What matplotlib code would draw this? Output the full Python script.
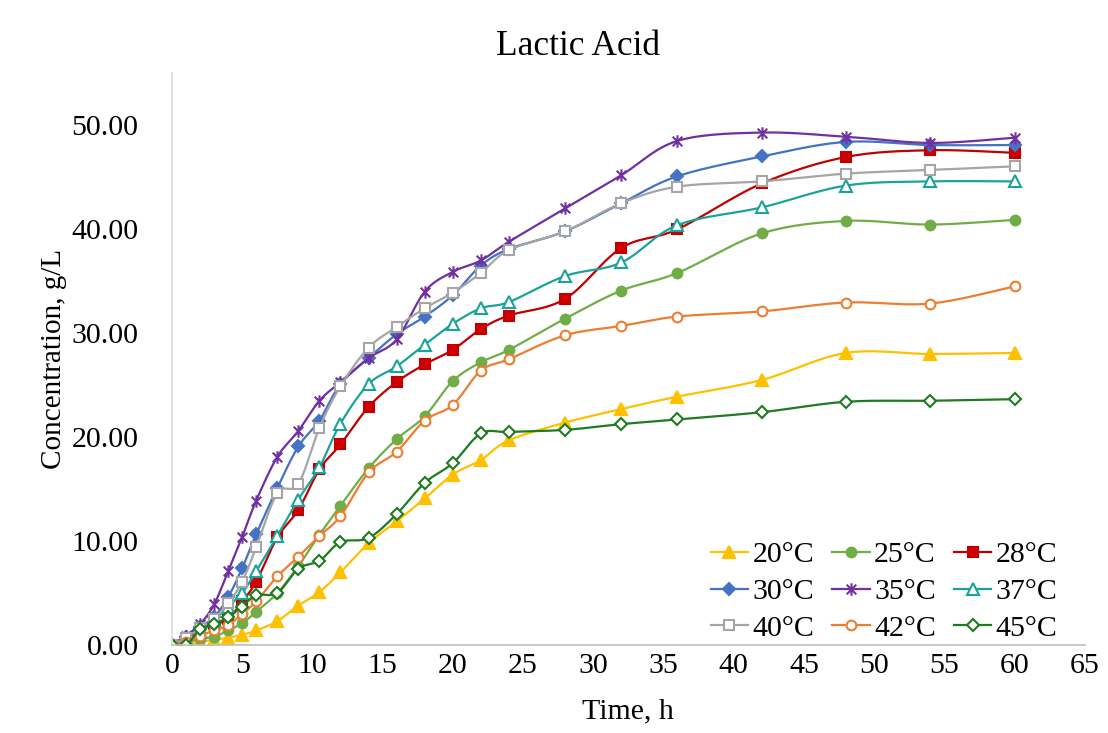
import numpy as np
import matplotlib
matplotlib.use("Agg")
import matplotlib.pyplot as plt
from matplotlib.path import Path

plt.rcParams['font.family'] = ['Liberation Serif', 'DejaVu Serif']

# sampling times (h)
hours = [0, 1, 2, 3, 4, 5, 6, 7.5, 9, 10.5, 12, 14, 16, 18, 20, 22, 24, 28, 32, 36, 42, 48, 54, 60]

# lactic acid concentration (g/L) per temperature
la_20 = [0, 0, 0.3, 0.5, 0.7, 1.0, 1.4, 2.3, 3.8, 5.1, 7.0, 9.8, 11.9, 14.1, 16.4, 17.8, 19.7, 21.4, 22.7, 23.9, 25.5, 28.1, 28.0, 28.1]
la_25 = [0, 0.2, 0.6, 0.8, 1.4, 2.1, 3.2, 5.0, 7.6, 10.6, 13.4, 17.0, 19.8, 22.0, 25.4, 27.2, 28.4, 31.4, 34.1, 35.8, 39.6, 40.8, 40.45, 40.9]
la_28 = [0, 0.6, 1.5, 2.0, 2.5, 4.2, 6.1, 10.35, 13.0, 16.9, 19.3, 22.9, 25.3, 27.0, 28.4, 30.4, 31.7, 33.3, 38.2, 40.0, 44.4, 46.95, 47.6, 47.35]
la_30 = [0, 0.8, 1.7, 2.7, 4.6, 7.4, 10.65, 15.1, 19.1, 21.6, 25.1, 27.6, 29.9, 31.6, 33.65, 36.5, 38.1, 39.8, 42.5, 45.1, 47.0, 48.4, 48.1, 48.1]
la_35 = [0, 0.9, 2.0, 3.9, 7.1, 10.4, 13.9, 18.1, 20.6, 23.5, 25.3, 27.6, 29.4, 34.0, 35.9, 37.0, 38.8, 42.0, 45.2, 48.5, 49.3, 48.9, 48.3, 48.8]
la_37 = [0, 0.1, 1.3, 2.4, 3.7, 5.0, 7.1, 10.5, 14.0, 17.1, 21.3, 25.1, 26.8, 28.9, 30.9, 32.4, 33.0, 35.5, 36.8, 40.4, 42.1, 44.2, 44.6, 44.6]
la_40 = [0, 0.7, 1.6, 2.5, 4.0, 6.1, 9.4, 14.6, 15.5, 20.9, 24.9, 28.6, 30.6, 32.4, 33.9, 35.8, 38.0, 39.8, 42.5, 44.1, 44.6, 45.35, 45.7, 46.05]
la_42 = [0, 0.3, 0.9, 1.4, 1.9, 3.0, 4.2, 6.6, 8.5, 10.5, 12.4, 16.6, 18.6, 21.6, 23.1, 26.4, 27.5, 29.8, 30.7, 31.6, 32.1, 32.95, 32.85, 34.5]
la_45 = [0, 0, 1.5, 2.0, 2.7, 3.7, 4.8, 5.0, 7.35, 8.1, 9.9, 10.3, 12.6, 15.6, 17.5, 20.35, 20.5, 20.7, 21.25, 21.7, 22.4, 23.4, 23.5, 23.65]

labels = ['20°C', '25°C', '28°C', '30°C', '35°C', '37°C', '40°C', '42°C', '45°C']

# asterisk-like marker: X plus a vertical bar
star = Path([(-1, -1), (1, 1), (-1, 1), (1, -1), (0, -1.3), (0, 1.3)],
            [Path.MOVETO, Path.LINETO, Path.MOVETO, Path.LINETO, Path.MOVETO, Path.LINETO])

styles = [
    dict(color='#FFC000', marker='^', mfc='#FFC000', ms=8),
    dict(color='#70AD47', marker='o', mfc='#70AD47', ms=7),
    dict(color='#C00000', marker='s', mfc='#D00000', ms=7),
    dict(color='#4472C4', marker='D', mfc='#4472C4', ms=6.5),
    dict(color='#7030A0', marker=star, mfc='#7030A0', ms=9),
    dict(color='#1AA39A', marker='^', mfc='white', ms=8),
    dict(color='#A5A5A5', marker='s', mfc='white', ms=7),
    dict(color='#ED7D31', marker='o', mfc='white', ms=7),
    dict(color='#1E7B22', marker='D', mfc='white', ms=6.5),
]

NSEG = 16


def smooth(x, y):
    # Bezier smoothing through every point, control points from neighbours
    pts = np.column_stack([x, y]).astype(float)
    n = len(pts)
    s = np.linspace(0, 1, NSEG + 1)[1:, None]
    out = [pts[:1]]
    for i in range(n - 1):
        p0, p1, p2, p3 = pts[max(i - 1, 0)], pts[i], pts[i + 1], pts[min(i + 2, n - 1)]
        c1 = p1 + (p2 - p0) / 6
        c2 = p2 - (p3 - p1) / 6
        seg = ((1 - s) ** 3) * p1 + 3 * ((1 - s) ** 2) * s * c1 + 3 * (1 - s) * s ** 2 * c2 + s ** 3 * p2
        out.append(seg)
    out = np.vstack(out)
    return out[:, 0], out[:, 1]


fig = plt.figure(figsize=(11.08, 7.33), dpi=100)
ax = fig.add_axes([0.1552, 0.120, 0.8238, 0.780])

series = [la_20, la_25, la_28, la_30, la_35, la_37, la_40, la_42, la_45]
lines = []
for vals, lab, st in zip(series, labels, styles):
    xs, ys = smooth(hours, vals)
    ln, = ax.plot(xs, ys, color=st['color'], lw=1.6, marker=st['marker'],
                  markevery=[i * NSEG for i in range(len(hours))],
                  mfc=st['mfc'], mec=st['color'], ms=st['ms'], mew=1.5, label=lab)
    lines.append(ln)

ax.set_xlim(0, 65)
ax.set_ylim(0, 55)
ax.set_xticks(np.arange(0, 66, 5))
ax.set_yticks(np.arange(0, 51, 10))
ax.set_yticklabels([f'{v:.2f}' for v in np.arange(0, 51, 10)])
ax.tick_params(length=0, labelsize=21.5)
ax.tick_params(axis='y', pad=24)
ax.tick_params(axis='x', pad=6)
for side in ['top', 'right']:
    ax.spines[side].set_visible(False)
ax.spines['left'].set_color('#D9D9D9')
ax.spines['bottom'].set_color('#BFBFBF')
ax.spines['left'].set_linewidth(1.2)
ax.spines['bottom'].set_linewidth(1.2)

fig.text(0.522, 0.937, 'Lactic Acid', ha='center', va='center', fontsize=25.5)
ax.set_xlabel('Time, h', fontsize=21.5, labelpad=14)
ax.set_ylabel('Concentration, g/L', fontsize=21, labelpad=3)

# legend reads row by row: 20/25/28, 30/35/37, 40/42/45
order = [0, 3, 6, 1, 4, 7, 2, 5, 8]
ax.legend([lines[i] for i in order], [labels[i] for i in order],
          loc='lower right', bbox_to_anchor=(0.968, 0.104), bbox_transform=fig.transFigure,
          ncol=3, frameon=False, fontsize=21.5, handlelength=1.25, handletextpad=0.15,
          columnspacing=0.6, labelspacing=0.33, borderpad=0)

fig.savefig('out.png', dpi=100)
